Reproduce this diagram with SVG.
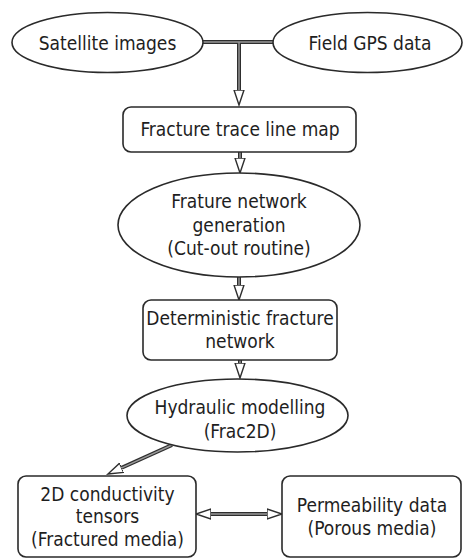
<svg xmlns="http://www.w3.org/2000/svg" width="463" height="560" viewBox="0 0 463 560">
<style>
.n{fill:#fff;stroke:#2a2a2a;stroke-width:1.6}
.t{font-family:"DejaVu Sans Condensed","DejaVu Sans",sans-serif;font-stretch:condensed;font-size:19px;fill:#1e1e1e;text-anchor:middle}
.o{fill:none;stroke:#2e2e2e;stroke-width:4}
.i{fill:none;stroke:#9a9a9a;stroke-width:1.4}
</style>
<defs>
<marker id="ah" markerUnits="userSpaceOnUse" markerWidth="20" markerHeight="14" viewBox="0 -7 20 14" refX="0" refY="0" orient="auto-start-reverse">
<path d="M0,-5 L15,0 L0,5 Z" fill="#fff" stroke="#2e2e2e" stroke-width="1.4"/>
</marker>
</defs>
<rect width="463" height="560" fill="#fff"/>
<g id="connectors">
<path class="o" d="M203,42 H273 M239,42 V90"/>
<path class="i" d="M203,42 H273"/>
<path class="i" d="M239,42 V90" marker-end="url(#ah)"/>
<path class="o" d="M240,152 V158"/>
<path class="i" d="M240,152 V158" marker-end="url(#ah)"/>
<path class="o" d="M239,277 V285"/>
<path class="i" d="M239,277 V285" marker-end="url(#ah)"/>
<path class="o" d="M240,360 V363"/>
<path class="i" d="M240,360 V363" marker-end="url(#ah)"/>
<path class="o" d="M172,445 L121.6,467.8"/>
<path class="i" d="M172,445 L121.6,467.8" marker-end="url(#ah)"/>
<path class="o" d="M211,514 H267"/>
<path class="i" d="M211,514 H267" marker-start="url(#ah)" marker-end="url(#ah)"/>
</g>
<g id="satellite">
<ellipse class="n" cx="107.5" cy="42.5" rx="95.5" ry="30"/>
<text class="t" x="107.5" y="49.5">Satellite images</text>
</g>
<g id="gps">
<ellipse class="n" cx="367.5" cy="42.5" rx="94.5" ry="30"/>
<text class="t" x="370" y="49.5">Field GPS data</text>
</g>
<g id="trace-map">
<rect class="n" x="123" y="107" width="233" height="45" rx="8"/>
<text class="t" x="240" y="136">Fracture trace line map</text>
</g>
<g id="network-generation">
<ellipse class="n" cx="239" cy="225" rx="121" ry="52"/>
<text class="t" x="239" y="208">Frature network</text>
<text class="t" x="239" y="232">generation</text>
<text class="t" x="239" y="255">(Cut-out routine)</text>
</g>
<g id="deterministic">
<rect class="n" x="143" y="300" width="194" height="60" rx="8"/>
<text class="t" x="240" y="325">Deterministic fracture</text>
<text class="t" x="240" y="348">network</text>
</g>
<g id="hydraulic">
<ellipse class="n" cx="237.5" cy="415.5" rx="110.5" ry="36.5"/>
<text class="t" x="240" y="414">Hydraulic modelling</text>
<text class="t" x="240" y="438">(Frac2D)</text>
</g>
<g id="conductivity">
<rect class="n" x="18" y="476" width="178" height="81" rx="8"/>
<text class="t" x="107.5" y="501">2D conductivity</text>
<text class="t" x="107.5" y="523">tensors</text>
<text class="t" x="107.5" y="546">(Fractured media)</text>
</g>
<g id="permeability">
<rect class="n" x="282" y="476" width="179" height="81" rx="8"/>
<text class="t" x="372" y="512">Permeability data</text>
<text class="t" x="372" y="535">(Porous media)</text>
</g>
</svg>
